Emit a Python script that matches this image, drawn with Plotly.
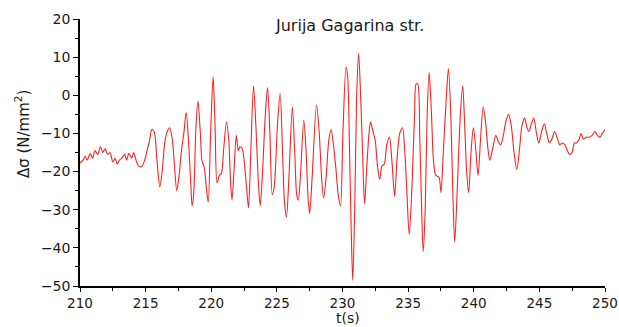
import plotly.graph_objects as go

t = [210.00, 210.24, 210.39, 210.54, 210.78, 210.96, 211.14, 211.35, 211.56, 211.74,
     211.92, 212.10, 212.29, 212.50, 212.68, 212.83, 213.01, 213.19, 213.40, 213.55,
     213.73, 213.94, 214.09, 214.27, 214.45, 214.69, 214.93, 215.11, 215.29, 215.47,
     215.65, 215.86, 216.08, 216.26, 216.47, 216.65, 216.83, 217.01, 217.19, 217.37,
     217.55, 217.73, 217.91, 218.09, 218.27, 218.45, 218.54, 218.66, 218.84, 218.99,
     219.17, 219.29, 219.47, 219.62, 219.77, 219.95, 220.14, 220.29, 220.44, 220.62,
     220.77, 220.95, 221.16, 221.34, 221.46, 221.58, 221.73, 221.91, 222.06, 222.18,
     222.36, 222.53, 222.71, 222.84, 223.01, 223.22, 223.40, 223.58, 223.73, 223.91,
     224.12, 224.29, 224.47, 224.65, 224.80, 225.04, 225.25, 225.43, 225.58, 225.73,
     225.91, 226.18, 226.36, 226.51, 226.63, 226.78, 227.05, 227.23, 227.38, 227.50,
     227.68, 228.02, 228.23, 228.38, 228.56, 228.74, 228.95, 229.13, 229.31, 229.49,
     229.67, 229.85, 230.03, 230.27, 230.39, 230.54, 230.66, 230.78, 230.93, 231.08,
     231.23, 231.38, 231.53, 231.68, 231.83, 232.02, 232.14, 232.29, 232.50, 232.65,
     232.83, 233.01, 233.19, 233.37, 233.58, 233.76, 233.97, 234.15, 234.36, 234.57,
     234.75, 234.90, 235.08, 235.28, 235.49, 235.61, 235.73, 235.88, 236.03, 236.15,
     236.30, 236.45, 236.60, 236.78, 236.93, 237.11, 237.35, 237.50, 237.68, 237.92,
     238.07, 238.25, 238.40, 238.55, 238.74, 238.98, 239.16, 239.31, 239.46, 239.61,
     239.79, 239.97, 240.15, 240.33, 240.51, 240.72, 240.90, 241.08, 241.23, 241.44,
     241.68, 241.86, 242.04, 242.23, 242.44, 242.65, 242.86, 243.07, 243.28, 243.49,
     243.67, 243.88, 244.06, 244.21, 244.39, 244.57, 244.78, 244.96, 245.17, 245.38,
     245.56, 245.77, 245.95, 246.16, 246.34, 246.56, 246.74, 246.95, 247.13, 247.31,
     247.49, 247.67, 247.85, 248.03, 248.18, 248.36, 248.57, 248.78, 249.02, 249.23,
     249.41, 249.59, 249.80, 250.00]

stress = [-17.8, -17.0, -16.0, -17.0, -15.3, -16.5, -14.5, -15.5, -13.5, -15.0,
          -14.0, -15.5, -15.0, -17.5, -16.5, -18.0, -17.0, -16.5, -15.5, -17.0,
          -15.2, -16.5, -15.0, -17.0, -18.5, -18.7, -17.0, -14.5, -12.0, -9.0,
          -9.5, -17.0, -24.0, -20.0, -12.0, -9.5, -8.5, -11.0, -18.0, -25.0,
          -21.0, -14.5, -10.0, -4.5, -12.0, -24.0, -29.0, -26.0, -8.0, -1.5,
          -10.0, -17.0, -19.0, -24.0, -28.0, -10.0, 5.0, -8.0, -23.0, -21.0,
          -20.5, -14.0, -7.0, -12.0, -22.0, -27.5, -20.0, -10.5, -14.5, -13.5,
          -14.0, -18.0, -25.0, -29.5, -15.0, 2.5, -8.0, -22.0, -29.0, -20.0,
          -5.0, 2.0, -10.0, -26.0, -24.0, -8.0, 0.5, -15.0, -28.0, -32.0,
          -22.0, -3.0, -15.0, -26.0, -27.5, -22.0, -6.5, -15.0, -27.0, -31.0,
          -22.0, -2.5, -10.0, -20.0, -27.0, -22.0, -12.0, -9.0, -13.0, -19.0,
          -26.0, -29.0, -10.0, 7.5, 5.0, -15.0, -35.0, -48.5, -30.0, 0.0,
          11.0, 0.0, -15.0, -28.5, -20.0, -10.0, -7.0, -9.0, -12.0, -18.0,
          -22.0, -18.5, -18.0, -13.0, -11.0, -17.0, -26.5, -17.0, -10.0, -8.5,
          -15.0, -25.0, -36.5, -25.0, -5.0, 3.0, 3.0, -10.0, -30.0, -41.0,
          -30.0, -5.0, 6.0, -5.0, -17.0, -21.0, -21.5, -25.5, -15.0, 0.0,
          7.0, -5.0, -25.0, -38.5, -25.0, -5.0, 2.5, -8.0, -20.0, -25.5,
          -15.0, -8.5, -14.0, -21.0, -12.0, -3.0, -7.0, -14.0, -17.0, -14.0,
          -10.5, -12.0, -13.0, -11.0, -7.0, -5.0, -8.0, -15.0, -19.5, -14.0,
          -8.0, -6.0, -8.5, -9.5, -7.5, -6.0, -10.0, -12.5, -9.5, -7.5,
          -10.0, -12.5, -11.5, -9.5, -11.0, -13.0, -12.5, -13.0, -14.5, -15.5,
          -15.0, -12.5, -12.5, -11.5, -10.0, -11.5, -11.0, -11.0, -10.5, -9.5,
          -10.5, -11.0, -10.0, -9.0]

x_ticks = [210, 215, 220, 225, 230, 235, 240, 245, 250]
y_ticks = [-50, -40, -30, -20, -10, 0, 10, 20]
title_text = "Jurija Gagarina str."
x_title = "t(s)"
y_title = "Δσ (N/mm<sup>2</sup>)"

fig = go.Figure()
fig.add_trace(go.Scatter(
    x=t, y=stress, mode="lines",
    line=dict(color="#ff2020", width=1.1, shape="spline", smoothing=0.8),
    showlegend=False, hoverinfo="skip"))

FAM = "DejaVu Sans, Arial, sans-serif"
tick_font = dict(family=FAM, size=14, color="#1a1a1a")
xtick_font = dict(family=FAM, size=13.5, color="#1a1a1a")

fig.update_layout(
    width=619, height=327,
    margin=dict(l=80, r=14, t=19, b=41),
    paper_bgcolor="white", plot_bgcolor="white",
    font=tick_font,
    xaxis=dict(
        range=[210, 250], tickvals=x_ticks, ticks="outside", ticklen=4,
        tickwidth=1, tickcolor="black", showline=True, linecolor="black",
        linewidth=1.5, showgrid=False, zeroline=False, tickfont=xtick_font,
        automargin=False,
        minor=dict(dtick=2.5, tick0=210, ticks="outside", ticklen=3,
                   tickcolor="black", showgrid=False),
    ),
    yaxis=dict(
        range=[-50, 20], tickvals=y_ticks, ticks="outside", ticklen=5,
        tickwidth=1, tickcolor="black", showline=True, linecolor="black",
        linewidth=1.5, showgrid=False, zeroline=False, tickfont=tick_font,
        automargin=False,
        minor=dict(dtick=5, tick0=-50, ticks="outside", ticklen=3,
                   tickcolor="black", showgrid=False),
    ),
    annotations=[
        dict(text=title_text, x=230.5, y=18.2, xref="x", yref="y",
             showarrow=False, xanchor="center", yanchor="middle",
             font=dict(family=FAM, size=16, color="#1a1a1a")),
        dict(text=x_title, x=0.51, y=-0.153, xref="paper", yref="paper",
             showarrow=False, xanchor="center", yanchor="bottom", borderpad=0,
             font=dict(family=FAM, size=14, color="#1a1a1a")),
        dict(text=y_title, x=-0.11, y=0.57, xref="paper", yref="paper",
             showarrow=False, xanchor="center", yanchor="middle", textangle=-90,
             font=dict(family=FAM, size=15, color="#1a1a1a")),
    ],
)

fig.write_html("out.html")
